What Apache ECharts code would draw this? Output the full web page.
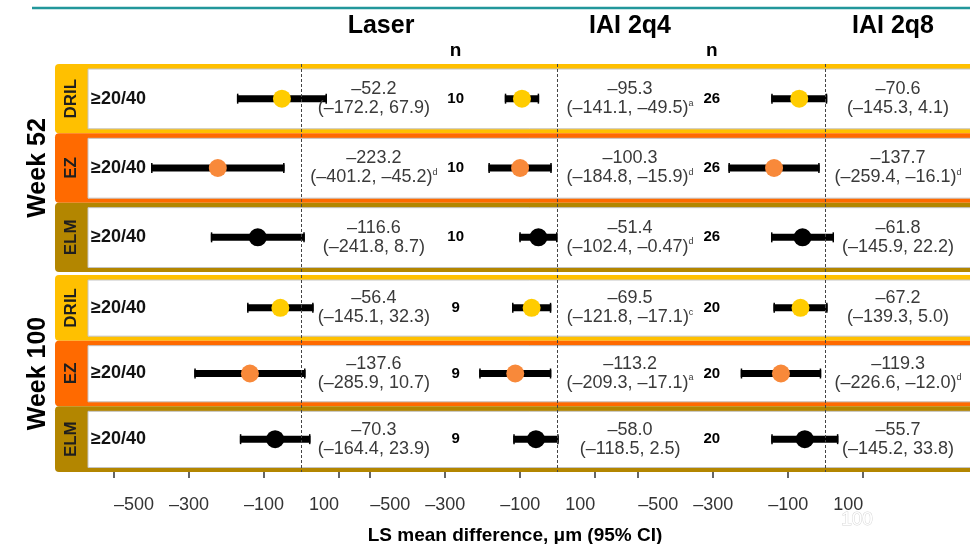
<!DOCTYPE html>
<html>
<head>
<meta charset="utf-8">
<script src="https://cdn.jsdelivr.net/npm/echarts@6/dist/echarts.min.js"></script>
<style>
  html, body { margin: 0; padding: 0; background: #fff; }
  #chart { width: 970px; height: 544px; }
</style>
</head>
<body>
<div id="chart"></div>
<script>
// ---- data -------------------------------------------------------------
const panels = ['Laser', 'IAI 2q4', 'IAI 2q8'];
const weeks = ['Week 52', 'Week 100'];
const measures = ['DRIL', 'EZ', 'ELM'];
const threshold = '≥20/40';
const tickValues = [-500, -300, -100, 100];
const axisTitle = 'LS mean difference, μm (95% CI)';

// row order: Week 52 DRIL, EZ, ELM, then Week 100 DRIL, EZ, ELM
const laserMean = [-52.2, -223.2, -116.6, -56.4, -137.6, -70.3];
const laserLow  = [-172.2, -401.2, -241.8, -145.1, -285.9, -164.4];
const laserHigh = [67.9, -45.2, 8.7, 32.3, 10.7, 23.9];
const laserN    = [10, 10, 10, 9, 9, 9];
const laserNote = ['', 'd', '', '', '', ''];

const q4Mean = [-95.3, -100.3, -51.4, -69.5, -113.2, -58.0];
const q4Low  = [-141.1, -184.8, -102.4, -121.8, -209.3, -118.5];
const q4High = [-49.5, -15.9, -0.47, -17.1, -17.1, 2.5];
const q4N    = [26, 26, 26, 20, 20, 20];
const q4Note = ['a', 'd', 'd', 'c', 'a', ''];

const q8Mean = [-70.6, -137.7, -61.8, -67.2, -119.3, -55.7];
const q8Low  = [-145.3, -259.4, -145.9, -139.3, -226.6, -145.2];
const q8High = [4.1, -16.1, 22.2, 5.0, -12.0, 33.8];
const q8Note = ['', 'd', '', '', 'd', ''];

const panelData = [
  { mean: laserMean, low: laserLow, high: laserHigh, n: laserN, note: laserNote },
  { mean: q4Mean, low: q4Low, high: q4High, n: q4N, note: q4Note },
  { mean: q8Mean, low: q8Low, high: q8High, n: null, note: q8Note }
];

// ---- layout & style ---------------------------------------------------
const FONT = "'Liberation Sans', Arial, Helvetica, sans-serif";
const PX_PER_UM = 0.375;                 // horizontal scale of every panel
const ZERO_X = [301.5, 557.7, 825.7];    // where 0 µm sits in each panel
const X_MIN = -600;                      // axis span (includes the text columns)
const X_MAX = [480, 480, 380];
const TEXT_AT = 193;                     // estimate column, in axis units
const N_AT = 411;                        // n column, in axis units
const GROUP_TOP = [64, 275];
const GROUP_H = [208, 197];
const FRAME_LEFT = 55, BOX_LEFT = 88;
const FRAME_COLORS = { DRIL: '#FFC000', EZ: '#FF6A00', ELM: '#B38600' };
const DOT_COLORS = { DRIL: '#FFCC00', EZ: '#F8893A', ELM: '#000000' };
const TEXT_GREY = '#3a3a3a';

function fmt(v) {
  const oneDecimal = Math.abs(v * 10 - Math.round(v * 10)) < 1e-6;
  const s = oneDecimal ? v.toFixed(1) : String(v);
  return s.replace('-', '\u2013');
}
function tickFmt(v) {
  return v < 0 ? '\u2013' + Math.abs(v) : String(v);
}
function rowCenter(g, i) {
  return GROUP_TOP[g] + GROUP_H[g] * (i + 0.5) / 3;
}

// ---- renderers ---------------------------------------------------------
function renderCI(params, api) {
  const cat = api.value(1);
  const a = api.coord([api.value(0), cat]);
  const b = api.coord([api.value(2), cat]);
  const style = { fill: '#000' };
  return {
    type: 'group',
    children: [
      { type: 'rect', shape: { x: a[0], y: a[1] - 3.5, width: b[0] - a[0], height: 7 }, style },
      { type: 'rect', shape: { x: a[0], y: a[1] - 5, width: 1.5, height: 10 }, style },
      { type: 'rect', shape: { x: b[0] - 1.5, y: b[1] - 5, width: 1.5, height: 10 }, style }
    ]
  };
}

function makeStatsRenderer(p) {
  const d = panelData[p];
  return function (params, api) {
    const k = api.value(2);
    const pt = api.coord([api.value(0), api.value(1)]);
    const note = d.note[k] ? '{s|' + d.note[k] + '}' : '';
    return {
      type: 'text',
      x: pt[0],
      y: pt[1],
      style: {
        text: '{m|' + fmt(d.mean[k]) + '}\n{m|(' + fmt(d.low[k]) + ', ' + fmt(d.high[k]) + ')}' + note,
        align: 'center',
        verticalAlign: 'middle',
        rich: {
          m: { fontSize: 18, lineHeight: 19, fontFamily: FONT, fill: TEXT_GREY },
          s: { fontSize: 9, lineHeight: 19, fontFamily: FONT, fill: TEXT_GREY, verticalAlign: 'top' }
        }
      }
    };
  };
}

function makeNRenderer(p) {
  const d = panelData[p];
  return function (params, api) {
    const k = api.value(2);
    const pt = api.coord([api.value(0), api.value(1)]);
    return {
      type: 'text',
      x: pt[0],
      y: pt[1],
      style: {
        text: String(d.n[k]),
        align: 'center',
        verticalAlign: 'middle',
        fontSize: 15,
        fontWeight: 'bold',
        fontFamily: FONT,
        fill: '#000'
      }
    };
  };
}

// ---- coordinate systems and series ------------------------------------
const grid = [], xAxis = [], yAxis = [], series = [];

weeks.forEach((wk, g) => {
  panels.forEach((name, p) => {
    const gi = grid.length;
    const d = panelData[p];
    grid.push({
      left: ZERO_X[p] + X_MIN * PX_PER_UM,
      width: (X_MAX[p] - X_MIN) * PX_PER_UM,
      top: GROUP_TOP[g],
      height: GROUP_H[g],
      containLabel: false
    });
    xAxis.push({
      gridIndex: gi,
      type: 'value',
      min: X_MIN,
      max: X_MAX[p],
      z: 5,
      axisLine: { show: false },
      splitLine: { show: false },
      axisTick: {
        show: g === 1,
        customValues: tickValues,
        length: 6,
        lineStyle: { color: '#333', width: 1.5 }
      },
      axisLabel: {
        show: g === 1,
        customValues: tickValues,
        formatter: tickFmt,
        alignMinLabel: 'left',
        alignMaxLabel: 'right',
        fontSize: 18,
        fontFamily: FONT,
        color: '#333',
        margin: 24
      }
    });
    yAxis.push({
      gridIndex: gi,
      type: 'category',
      data: measures,
      inverse: true,
      z: 5,
      axisLine: { show: false },
      axisTick: { show: false },
      splitLine: { show: false },
      axisLabel: p === 0 ? {
        inside: true,
        margin: 14.5,
        formatter: () => threshold,
        fontSize: 18,
        fontWeight: 'bold',
        fontFamily: FONT,
        color: '#111'
      } : { show: false }
    });

    const rows = [0, 1, 2].map(i => g * 3 + i);

    series.push({
      type: 'custom',
      xAxisIndex: gi, yAxisIndex: gi,
      renderItem: renderCI,
      encode: { x: [0, 2], y: 1 },
      data: rows.map((k, i) => [d.low[k], i, d.high[k]]),
      z: 3,
      silent: true
    });
    series.push({
      type: 'scatter',
      xAxisIndex: gi, yAxisIndex: gi,
      symbol: 'circle',
      symbolSize: 18,
      itemStyle: { opacity: 1 },
      data: rows.map((k, i) => ({
        value: [d.mean[k], i],
        itemStyle: { color: DOT_COLORS[measures[i]], opacity: 1 }
      })),
      z: 4,
      silent: true,
      markLine: {
        silent: true,
        symbol: 'none',
        label: { show: false },
        lineStyle: { color: '#444', width: 1, type: [3, 2] },
        data: [{ xAxis: 0 }]
      }
    });
    series.push({
      type: 'custom',
      xAxisIndex: gi, yAxisIndex: gi,
      renderItem: makeStatsRenderer(p),
      encode: { x: 0, y: 1 },
      data: rows.map((k, i) => [TEXT_AT, i, k]),
      z: 3,
      silent: true
    });
    if (d.n) {
      series.push({
        type: 'custom',
        xAxisIndex: gi, yAxisIndex: gi,
        renderItem: makeNRenderer(p),
        encode: { x: 0, y: 1 },
        data: rows.map((k, i) => [N_AT, i, k]),
        z: 3,
        silent: true
      });
    }
  });
});

// ---- decorations: header, row frames, side labels ----------------------
const graphics = [];
graphics.push({
  type: 'line', z: 5,
  shape: { x1: 32, y1: 8, x2: 970, y2: 8 },
  style: { stroke: '#22979b', lineWidth: 2.5 }
});

const titleX = [381, 630, 893];
panels.forEach((name, p) => {
  graphics.push({
    type: 'text', z: 5, x: titleX[p], y: 26,
    style: { text: name, fontSize: 25, fontWeight: 'bold', fontFamily: FONT, fill: '#000', align: 'center', verticalAlign: 'middle' }
  });
  if (panelData[p].n) {
    graphics.push({
      type: 'text', z: 5, x: ZERO_X[p] + N_AT * PX_PER_UM, y: 51,
      style: { text: 'n', fontSize: 19, fontWeight: 'bold', fontFamily: FONT, fill: '#000', align: 'center', verticalAlign: 'middle' }
    });
  }
});

weeks.forEach((wk, g) => {
  const h = GROUP_H[g] / 3;
  measures.forEach((m, i) => {
    const top = GROUP_TOP[g] + i * h;
    graphics.push({
      type: 'rect', z: 0,
      shape: { x: FRAME_LEFT, y: top, width: 930, height: h, r: [4, 0, 0, 4] },
      style: { fill: FRAME_COLORS[m] }
    });
    graphics.push({
      type: 'rect', z: 1,
      shape: { x: BOX_LEFT, y: top + 5, width: 890, height: h - 9.5 },
      style: { fill: '#fff', stroke: '#c4c4c4', lineWidth: 1 }
    });
    graphics.push({
      type: 'text', z: 5, x: 71.5, y: rowCenter(g, i), rotation: Math.PI / 2,
      style: { text: m, fontSize: 17, fontWeight: 'bold', fontFamily: FONT, fill: '#1e1e1e', align: 'center', verticalAlign: 'middle' }
    });
  });
  graphics.push({
    type: 'text', z: 5, x: 38, y: GROUP_TOP[g] + GROUP_H[g] / 2, rotation: Math.PI / 2,
    style: { text: wk, fontSize: 25, fontWeight: 'bold', fontFamily: FONT, fill: '#000', align: 'center', verticalAlign: 'middle' }
  });
});

graphics.push({
  type: 'text', z: 5, x: 515, y: 536,
  style: { text: axisTitle, fontSize: 19, fontWeight: 'bold', fontFamily: FONT, fill: '#000', align: 'center', verticalAlign: 'middle' }
});
graphics.push({
  type: 'text', z: 5, x: 857, y: 520,
  style: { text: '100', fontSize: 19, fontFamily: FONT, fill: '#ffffff', stroke: '#d6d6d6', lineWidth: 1, align: 'center', verticalAlign: 'middle' }
});

const chart = echarts.init(document.getElementById('chart'), null, { renderer: 'canvas' });
chart.setOption({
  animation: false,
  backgroundColor: '#fff',
  grid, xAxis, yAxis, series,
  graphic: { elements: graphics }
});
</script>
</body>
</html>
